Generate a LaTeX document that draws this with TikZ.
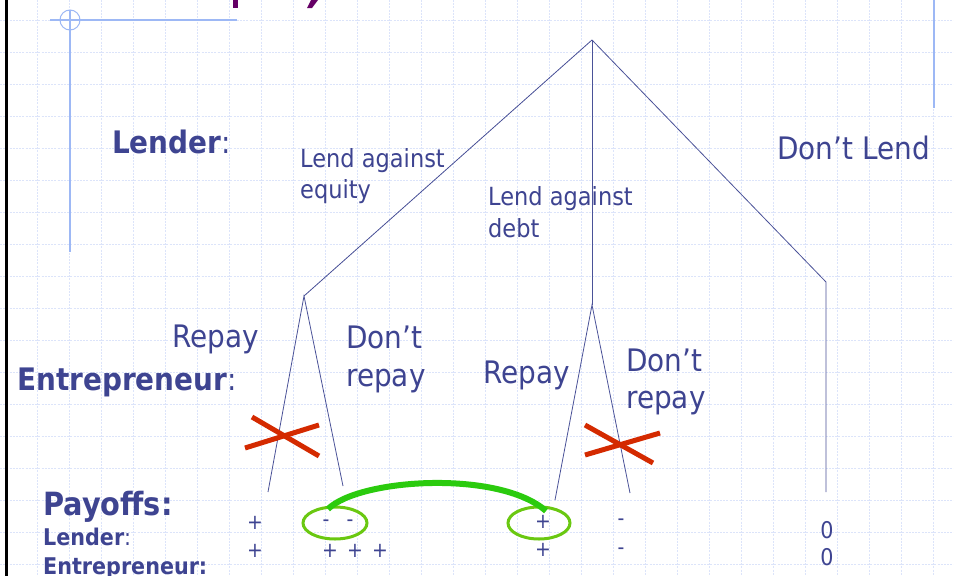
\documentclass[tikz,border=0pt]{standalone}
\usepackage{fontspec}
\setmainfont{DejaVu Sans}[FakeStretch=0.9]
\definecolor{txt}{HTML}{3E4491}
\definecolor{tree}{HTML}{4A5298}
\definecolor{gridc}{HTML}{DCE4FA}
\definecolor{deco}{HTML}{9DB8F5}
\definecolor{xred}{HTML}{D42A00}
\definecolor{arcg}{HTML}{2BCB0E}
\definecolor{ellg}{HTML}{6AC811}
\definecolor{titlep}{HTML}{660066}
\tikzset{
  gridline/.style={gridc, line width=0.9pt, dash pattern=on 2pt off 1.2pt},
  branch/.style={tree, line width=0.8pt},
  lbl/.style={txt, anchor=base west, inner sep=0pt, font=\fontsize{31}{31}\selectfont},
  small/.style={txt, anchor=base west, inner sep=0pt, font=\fontsize{25}{25}\selectfont},
  bigb/.style={txt, anchor=base west, inner sep=0pt, font=\fontsize{31}{31}\selectfont},
  pay/.style={txt, anchor=center, inner sep=0pt, font=\fontsize{21}{21}\selectfont},
  zero/.style={txt, anchor=center, inner sep=0pt, font=\fontsize{23}{23}\selectfont},
  cross/.style={xred, line width=5pt},
  oval/.style={ellg, line width=3pt},
}
\begin{document}
\begin{tikzpicture}[x=1pt,y=-1pt]
\useasboundingbox (0,0) rectangle (954,576);
\fill[white] (0,0) rectangle (954,576);
% grid
\foreach \x in {37,69,...,933} \draw[gridline] (\x,0) -- (\x,576);
\foreach \y in {20,52,...,564} \draw[gridline] (0,\y) -- (954,\y);
% left border
\draw[black, line width=3pt] (6.5,0) -- (6.5,576);
% decoration
\draw[deco, line width=1.3pt] (50,20) -- (237,20);
\draw[deco, line width=1.3pt] (70,10) -- (70,252);
\draw[deco, line width=1pt] (70,20) circle (10);
\draw[deco, line width=1.3pt] (934,0) -- (934,108);
% title remnants
\fill[titlep] (233,0) rectangle (238,8);
\fill[titlep] (307,8) -- (312,8) -- (318,0) -- (311,0) -- cycle;
% tree coordinates
\coordinate (root) at (592,40);
\coordinate (eq) at (304,296);
\coordinate (dt) at (592,305);
\coordinate (nl) at (826,282);
\coordinate (nlend) at (826,492);
\coordinate (eqR) at (268,492);
\coordinate (eqD) at (343,486);
\coordinate (dtR) at (555,500);
\coordinate (dtD) at (630,493);
\draw[branch] (root) -- (eq);
\draw[branch] (root) -- (dt);
\draw[branch] (root) -- (nl) -- (nlend);
\draw[branch] (eqR) -- (eq) -- (eqD);
\draw[branch] (dtR) -- (dt) -- (dtD);
% crosses
\draw[cross] (252,417) -- (319,456);
\draw[cross] (245,448) -- (319,425);
\draw[cross] (585,425) -- (653,463);
\draw[cross] (585,455) -- (660,433);
% labels
\node[bigb] (lender) at (112,153) {\textbf{Lender}:};
\node[small] (le1) at (300,167) {Lend against};
\node[small] (le2) at (300,198) {equity};
\node[small] (ld1) at (488,205) {Lend against};
\node[small] (ld2) at (488,237) {debt};
\node[lbl] (dl) at (777,159) {Don’t Lend};
\node[lbl] (rp1) at (172,347) {Repay};
\node[bigb] (entr) at (17,390) {\textbf{Entrepreneur}:};
\node[lbl] (dr1) at (346,348) {Don’t};
\node[lbl] (dr1b) at (346,386) {repay};
\node[lbl] (rp2) at (483,383) {Repay};
\node[lbl] (dr2) at (626,371) {Don’t};
\node[lbl] (dr2b) at (626,408) {repay};
% payoffs
\node[txt, anchor=base west, inner sep=0pt, font=\fontsize{32}{32}\selectfont\bfseries] (pays) at (43,515) {Payoffs:};
\node[txt, anchor=base west, inner sep=0pt, font=\fontsize{23}{23}\selectfont] (plend) at (43,545) {\textbf{Lender}:};
\node[txt, anchor=base west, inner sep=0pt, font=\fontsize{23}{23}\selectfont\bfseries] (pentr) at (43,574) {Entrepreneur:};
\node[pay] (a1) at (255,523) {+};
\node[pay] (a2) at (255,551) {+};
\node[pay] (b1) at (326,523) {-};
\node[pay] (b2) at (350,523) {-};
\node[pay] (c1) at (330,551) {+};
\node[pay] (c2) at (355,551) {+};
\node[pay] (c3) at (380,551) {+};
\node[pay] (d1) at (543,522) {+};
\node[pay] (d2) at (543,550) {+};
\node[pay] (e1) at (621,522) {-};
\node[pay] (e2) at (621,551) {-};
\node[zero] (f1) at (827,530) {0};
\node[zero] (f2) at (827,557) {0};
% ovals and arc
\draw[oval] (335,523) ellipse [x radius=32, y radius=16];
\draw[oval] (539,523) ellipse [x radius=31, y radius=16];
\coordinate (arcA) at (328,509);
\coordinate (arcB) at (546,511);
\draw[arcg, line width=6pt] (arcA) .. controls (360,478) and (500,470) .. (arcB);
\end{tikzpicture}
\end{document}
